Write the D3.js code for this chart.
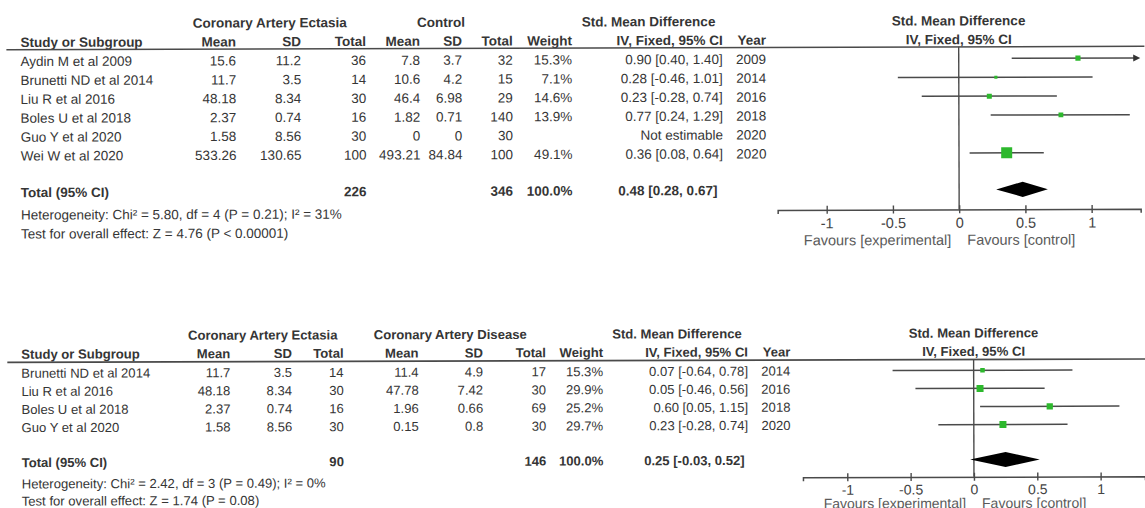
<!DOCTYPE html>
<html>
<head>
<meta charset="utf-8">
<script src="https://cdn.jsdelivr.net/npm/d3@7"></script>
<style>
  html, body { margin: 0; padding: 0; background: #fff; }
  svg { display: block; }
</style>
</head>
<body>
<svg id="chart" width="1145" height="508"></svg>
<script>
// ---- Panel 1: Coronary Artery Ectasia vs Control ----
const studies1   = ["Aydin M et al 2009", "Brunetti ND et al 2014", "Liu R et al 2016", "Boles U et al 2018", "Guo Y et al 2020", "Wei W et al 2020"];
const expMean1   = [15.6, 11.7, 48.18, 2.37, 1.58, 533.26];
const expSD1     = [11.2, 3.5, 8.34, 0.74, 8.56, 130.65];
const expN1      = [36, 14, 30, 16, 30, 100];
const ctlMean1   = [7.8, 10.6, 46.4, 1.82, 0, 493.21];
const ctlSD1     = [3.7, 4.2, 6.98, 0.71, 0, 84.84];
const ctlN1      = [32, 15, 29, 140, 30, 100];
const weight1    = [15.3, 7.1, 14.6, 13.9, null, 49.1];
const smd1       = [0.90, 0.28, 0.23, 0.77, null, 0.36];
const lo1        = [0.40, -0.46, -0.28, 0.24, null, 0.08];
const hi1        = [1.40, 1.01, 0.74, 1.29, null, 0.64];
const year1      = [2009, 2014, 2016, 2018, 2020, 2020];
const total1     = { expN: 226, ctlN: 346, weight: 100.0, smd: 0.48, lo: 0.28, hi: 0.67 };
const hetero1    = "Heterogeneity: Chi\u00b2 = 5.80, df = 4 (P = 0.21); I\u00b2 = 31%";
const overall1   = "Test for overall effect: Z = 4.76 (P < 0.00001)";
const groups1    = ["Coronary Artery Ectasia", "Control"];

// ---- Panel 2: Coronary Artery Ectasia vs Coronary Artery Disease ----
const studies2   = ["Brunetti ND et al 2014", "Liu R et al 2016", "Boles U et al 2018", "Guo Y et al 2020"];
const expMean2   = [11.7, 48.18, 2.37, 1.58];
const expSD2     = [3.5, 8.34, 0.74, 8.56];
const expN2      = [14, 30, 16, 30];
const ctlMean2   = [11.4, 47.78, 1.96, 0.15];
const ctlSD2     = [4.9, 7.42, 0.66, 0.8];
const ctlN2      = [17, 30, 69, 30];
const weight2    = [15.3, 29.9, 25.2, 29.7];
const smd2       = [0.07, 0.05, 0.60, 0.23];
const lo2        = [-0.64, -0.46, 0.05, -0.28];
const hi2        = [0.78, 0.56, 1.15, 0.74];
const year2      = [2014, 2016, 2018, 2020];
const total2     = { expN: 90, ctlN: 146, weight: 100.0, smd: 0.25, lo: -0.03, hi: 0.52 };
const hetero2    = "Heterogeneity: Chi\u00b2 = 2.42, df = 3 (P = 0.49); I\u00b2 = 0%";
const overall2   = "Test for overall effect: Z = 1.74 (P = 0.08)";
const groups2    = ["Coronary Artery Ectasia", "Coronary Artery Disease"];

const tickValues = [-1, -0.5, 0, 0.5, 1];
const colHeaders = ["Mean", "SD", "Total", "Mean", "SD", "Total", "Weight", "IV, Fixed, 95% CI", "Year"];
const favours    = ["Favours [experimental]", "Favours [control]"];

const FONT = "'Liberation Sans', Arial, Helvetica, sans-serif";
const TXT = "#353535";
const LINE = "#4a4a4a";
const GREEN = "#2db82d";

const svg = d3.select("#chart");
// the whole sheet sits very slightly tilted
const sheet = svg.append("g").attr("transform", "rotate(-0.17, 572, 254)");

const f2 = v => v.toFixed(2);

function drawPanel(p) {
  const g = sheet.append("g");
  const n = p.studies.length;
  const rowY = i => p.row0 + i * p.rowStep;
  const base = p.fs * 0.36; // baseline offset to centre caps on a row

  function txt(x, y, s, opt = {}) {
    return g.append("text")
      .attr("x", x).attr("y", y + base)
      .attr("text-anchor", opt.anchor || "end")
      .attr("font-family", FONT)
      .attr("font-size", opt.fs || p.fs)
      .attr("font-weight", opt.bold ? "bold" : "normal")
      .attr("fill", opt.fill || TXT)
      .text(s);
  }

  const c = p.cols;
  // group headers
  txt(c.expCenter, p.hdr1, p.groups[0], { anchor: "middle", bold: true });
  txt(c.ctlCenter, p.hdr1, p.groups[1], { anchor: "middle", bold: true });
  txt(c.smdCenter, p.hdr1, "Std. Mean Difference", { anchor: "middle", bold: true });

  // column headers
  txt(c.study, p.hdr2, "Study or Subgroup", { anchor: "start", bold: true });
  const hx = [c.expMean, c.expSD, c.expN, c.ctlMean, c.ctlSD, c.ctlN, c.weight, c.ci, c.year];
  colHeaders.forEach((h, i) => txt(hx[i], p.hdr2, h, { bold: true }));

  // header rule across the full sheet
  g.append("line")
    .attr("x1", 7).attr("x2", 1145)
    .attr("y1", p.rule).attr("y2", p.rule)
    .attr("stroke", LINE).attr("stroke-width", 1.6);

  // study rows
  for (let i = 0; i < n; i++) {
    const y = rowY(i);
    txt(c.study, y, p.studies[i], { anchor: "start" });
    txt(c.expMean, y, String(p.expMean[i]));
    txt(c.expSD, y, String(p.expSD[i]));
    txt(c.expN, y, String(p.expN[i]));
    txt(c.ctlMean, y, String(p.ctlMean[i]));
    txt(c.ctlSD, y, String(p.ctlSD[i]));
    txt(c.ctlN, y, String(p.ctlN[i]));
    if (p.weight[i] != null) txt(c.weight, y, p.weight[i].toFixed(1) + "%");
    txt(c.ci, y, p.smd[i] == null ? "Not estimable"
      : `${f2(p.smd[i])} [${f2(p.lo[i])}, ${f2(p.hi[i])}]`);
    txt(c.year, y, String(p.year[i]));
  }

  // total row
  const t = p.total;
  txt(c.study, p.totalY, "Total (95% CI)", { anchor: "start", bold: true });
  txt(c.expN, p.totalY, String(t.expN), { bold: true });
  txt(c.ctlN, p.totalY, String(t.ctlN), { bold: true });
  txt(c.weight, p.totalY, t.weight.toFixed(1) + "%", { bold: true });
  txt(c.ci, p.totalY, `${f2(t.smd)} [${f2(t.lo)}, ${f2(t.hi)}]`, { anchor: "start", bold: true })
    .attr("x", c.ciTotalStart);
  txt(c.study, p.heteroY, p.hetero, { anchor: "start" });
  txt(c.study, p.overallY, p.overall, { anchor: "start" });

  // ---- forest plot ----
  const x = d3.scaleLinear().domain(p.domain).range(p.range);
  const [dmin, dmax] = p.domain;

  txt(x(0), p.hdr1, "Std. Mean Difference", { anchor: "middle", bold: true });
  txt(x(0), p.hdr2, "IV, Fixed, 95% CI", { anchor: "middle", bold: true });

  // line of no effect
  g.append("line")
    .attr("x1", x(0)).attr("x2", x(0))
    .attr("y1", p.rule).attr("y2", p.axisY)
    .attr("stroke", LINE).attr("stroke-width", 1.4);

  const box = d3.scalePow().exponent(0.65)
    .domain([0, d3.max(p.weight)]).range([0, p.boxMax]);

  for (let i = 0; i < n; i++) {
    if (p.smd[i] == null) continue;
    const y = rowY(i);
    const a = Math.max(p.lo[i], dmin), b = Math.min(p.hi[i], dmax);
    g.append("line")
      .attr("x1", x(a)).attr("x2", x(b) - (p.hi[i] > dmax ? 4 : 0))
      .attr("y1", y).attr("y2", y)
      .attr("stroke", LINE).attr("stroke-width", 1.5);
    if (p.hi[i] > dmax) {
      const xe = x(dmax);
      g.append("path")
        .attr("d", `M${xe},${y} L${xe - 7},${y - 3.5} L${xe - 7},${y + 3.5} Z`)
        .attr("fill", "#333");
    }
    if (p.lo[i] < dmin) {
      const xs = x(dmin);
      g.append("path")
        .attr("d", `M${xs},${y} L${xs + 7},${y - 3.5} L${xs + 7},${y + 3.5} Z`)
        .attr("fill", "#333");
    }
    const s = box(p.weight[i]);
    g.append("rect")
      .attr("x", x(p.smd[i]) - s / 2).attr("y", y - s / 2)
      .attr("width", s).attr("height", s)
      .attr("fill", GREEN);
  }

  // pooled diamond
  const dh = 7.6;
  g.append("path")
    .attr("d", `M${x(t.lo)},${p.totalY} L${x(t.smd)},${p.totalY - dh} L${x(t.hi)},${p.totalY} L${x(t.smd)},${p.totalY + dh} Z`)
    .attr("fill", "#000");

  // axis
  const ax = g.append("g")
    .attr("transform", `translate(0,${p.axisY})`)
    .call(d3.axisBottom(x).tickValues(tickValues).tickSizeOuter(0).tickSize(4)
      .tickFormat(d => String(d)));
  ax.select(".domain").attr("stroke", LINE).attr("stroke-width", 1.5);
  ax.selectAll(".tick line").attr("y1", -4).attr("y2", 4)
    .attr("stroke", LINE).attr("stroke-width", 1.4);
  ax.selectAll(".tick text")
    .attr("y", p.tickLabelDy).attr("dy", 0)
    .attr("font-family", FONT).attr("font-size", p.tickFs).attr("fill", "#444");

  txt(x(0) - 8, p.favY, favours[0], { fs: p.tickFs, fill: "#5a5a5a" });
  txt(x(0) + 8, p.favY, favours[1], { anchor: "start", fs: p.tickFs, fill: "#5a5a5a" });
}

drawPanel({
  studies: studies1, expMean: expMean1, expSD: expSD1, expN: expN1,
  ctlMean: ctlMean1, ctlSD: ctlSD1, ctlN: ctlN1, weight: weight1,
  smd: smd1, lo: lo1, hi: hi1, year: year1, total: total1,
  hetero: hetero1, overall: overall1, groups: groups1,
  fs: 13.5, tickFs: 14.5,
  hdr1: 21.7, hdr2: 40.5, rule: 48, row0: 59.6, rowStep: 18.9,
  totalY: 190.7, heteroY: 213.1, overallY: 232.1,
  axisY: 210.5, tickLabelDy: 18.5, favY: 241.2, boxMax: 11,
  domain: [-1.37, 1.37], range: [777.8, 1140.8],
  cols: { study: 21, expMean: 236.7, expSD: 301.7, expN: 366.7, ctlMean: 420.7, ctlSD: 462.7,
          ctlN: 513.3, weight: 572.7, ci: 723.3, ciTotalStart: 618.5, year: 766.7,
          expCenter: 270.5, ctlCenter: 441.7, smdCenter: 649.3 }
});

drawPanel({
  studies: studies2, expMean: expMean2, expSD: expSD2, expN: expN2,
  ctlMean: ctlMean2, ctlSD: ctlSD2, ctlN: ctlN2, weight: weight2,
  smd: smd2, lo: lo2, hi: hi2, year: year2, total: total2,
  hetero: hetero2, overall: overall2, groups: groups2,
  fs: 13.1, tickFs: 14,
  hdr1: 334, hdr2: 352.4, rule: 360.7, row0: 371.5, rowStep: 18.1,
  totalY: 460.8, heteroY: 482.1, overallY: 499.3,
  axisY: 478, tickLabelDy: 17.5, favY: 504.5, boxMax: 7,
  domain: [-1.35, 1.35], range: [802.3, 1144.3],
  cols: { study: 21, expMean: 230, expSD: 291.7, expN: 343.3, ctlMean: 418.3, ctlSD: 482.7,
          ctlN: 545.7, weight: 602.7, ci: 747.7, ciTotalStart: 643.5, year: 790,
          expCenter: 262.5, ctlCenter: 450, smdCenter: 676.7 }
});
</script>
</body>
</html>
